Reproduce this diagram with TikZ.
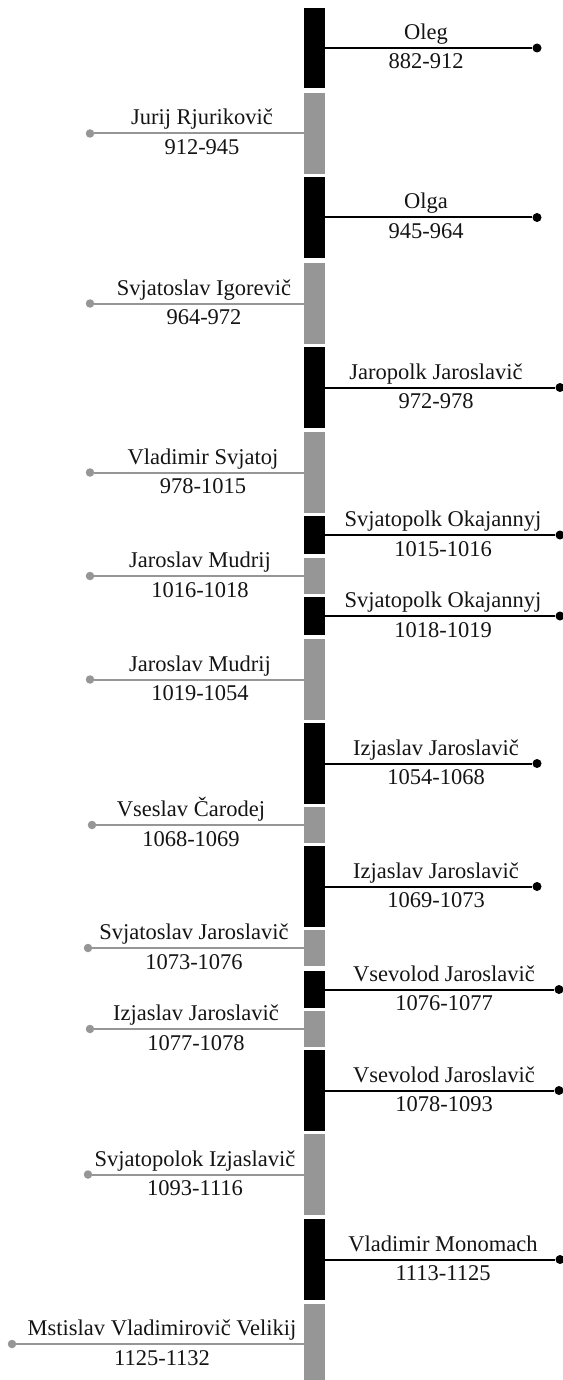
\documentclass[tikz,border=0pt]{standalone}
\usepackage{fontspec}
\setmainfont{Liberation Serif}
\definecolor{bargray}{RGB}{150,150,150}
\definecolor{txt}{RGB}{20,20,20}
\tikzset{
  seg/.style={rectangle, draw=none, inner sep=0pt, minimum width=21pt},
  dotR/.style={circle, fill=black, inner sep=0pt, minimum size=9pt},
  dotL/.style={circle, fill=bargray, inner sep=0pt, minimum size=8.5pt},
  lineR/.style={draw=black, line width=2pt},
  lineL/.style={draw=bargray, line width=2pt},
  lab/.style={inner sep=0pt, text=txt, font=\fontsize{22.5}{26}\selectfont}
}
\newcommand\segR[7]{%
  \pgfmathsetmacro\segmid{(#2+#3)/2}\pgfmathsetmacro\seght{#3-#2}%
  \node[seg, fill=black, minimum height=\seght pt] (#1) at (314.5,\segmid) {};
  \node[dotR] (#1d) at (#4,\segmid) {};
  \draw[lineR] (#1.east |- #1d) -- (#1d);
  \node[lab, anchor=base] (#1n) at (#5,\segmid-8.5) {#6};
  \node[lab, anchor=base] (#1t) at (#5,\segmid+21) {#7};
}
\newcommand\segL[7]{%
  \pgfmathsetmacro\segmid{(#2+#3)/2}\pgfmathsetmacro\seght{#3-#2}%
  \node[seg, fill=bargray, minimum height=\seght pt] (#1) at (314.5,\segmid) {};
  \node[dotL] (#1d) at (#4,\segmid) {};
  \draw[lineL] (#1.west |- #1d) -- (#1d);
  \node[lab, anchor=base] (#1n) at (#5,\segmid-8.5) {#6};
  \node[lab, anchor=base] (#1t) at (#5,\segmid+21) {#7};
}
\begin{document}
\begin{tikzpicture}[x=1pt,y=-1pt]
\useasboundingbox (0,0) rectangle (562,1380);
\segR{s1}{8}{88}{537}{426}{Oleg}{882-912}
\segL{s2}{93}{174}{90}{202}{Jurij Rjurikovič}{912-945}
\segR{s3}{177}{258}{537}{426}{Olga}{945-964}
\segL{s4}{263}{344}{90}{204}{Svjatoslav Igorevič}{964-972}
\segR{s5}{347}{428}{560}{436}{Jaropolk Jaroslavič}{972-978}
\segL{s6}{432}{513}{90}{203}{Vladimir Svjatoj}{978-1015}
\segR{s7}{516}{554}{560}{443}{Svjatopolk Okajannyj}{1015-1016}
\segL{s8}{558}{594}{90}{200}{Jaroslav Mudrij}{1016-1018}
\segR{s9}{597}{635}{560}{443}{Svjatopolk Okajannyj}{1018-1019}
\segL{s10}{639}{720}{90}{200}{Jaroslav Mudrij}{1019-1054}
\segR{s11}{723}{804}{537}{436}{Izjaslav Jaroslavič}{1054-1068}
\segL{s12}{807}{843}{92}{191}{Vseslav Čarodej}{1068-1069}
\segR{s13}{846}{927}{537}{436}{Izjaslav Jaroslavič}{1069-1073}
\segL{s14}{930}{966}{88}{194}{Svjatoslav Jaroslavič}{1073-1076}
\segR{s15}{971}{1008}{559}{444}{Vsevolod Jaroslavič}{1076-1077}
\segL{s16}{1011}{1047}{90}{196}{Izjaslav Jaroslavič}{1077-1078}
\segR{s17}{1050}{1131}{559}{444}{Vsevolod Jaroslavič}{1078-1093}
\segL{s18}{1134}{1215}{88}{195}{Svjatopolok Izjaslavič}{1093-1116}
\segR{s19}{1219}{1300}{560}{443}{Vladimir Monomach}{1113-1125}
\segL{s20}{1304}{1384}{12}{162}{Mstislav Vladimirovič Velikij}{1125-1132}
\end{tikzpicture}
\end{document}
